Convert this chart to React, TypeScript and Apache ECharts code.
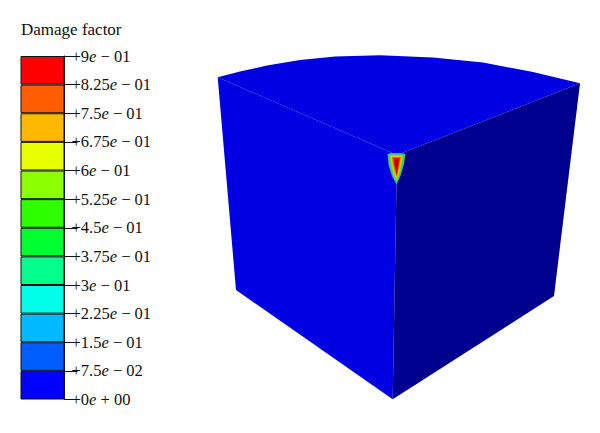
import React, { useEffect, useRef } from "react";
import * as echarts from "echarts";

const FONT = '"Liberation Serif", serif';

// Legend, bottom to top
const bandColors = ["#0000ff", "#005dff", "#00b9ff", "#00ffe8", "#00ff8b", "#00ff2e", "#2eff00", "#8cff00", "#e8ff00", "#ffb900", "#ff5d00", "#ff0000"];
const bandStep = 0.075;
const tickMantissas = ["+0", "+7.5", "+1.5", "+2.25", "+3", "+3.75", "+4.5", "+5.25", "+6", "+6.75", "+7.5", "+8.25", "+9"];
const tickExponents = [" + 00", " − 02", " − 01", " − 01", " − 01", " − 01", " − 01", " − 01", " − 01", " − 01", " − 01", " − 01", " − 01"];

// Cube faces in its own x/y scale
const topFace = [[217.7, 77.3], [240, 71.5], [267, 65.5], [300, 60], [335, 56.5], [380, 55.3], [433, 57.5], [483, 62.5], [533, 72], [580, 83.3], [397, 155]];
const leftFace = [[217.7, 77.3], [397, 155], [392.7, 399.3], [236, 290]];
const rightFace = [[397, 155], [580, 83.3], [554, 296], [392.7, 399.3]];
const hotOuter = [[387.5, 154], [391, 153], [401, 153], [405.5, 154], [404, 164], [400.5, 176], [396.5, 184.5], [392, 176], [388.5, 165]];
const hotGreen = [[389.5, 155], [403.5, 155], [402, 164], [399.5, 174], [396.5, 181.5], [393, 174], [390.5, 164]];
const hotYellow = [[391, 156], [402, 156], [400.5, 164], [398.5, 173], [396.5, 179], [394, 173], [392, 164]];
const hotOrange = [[392, 157], [401, 157], [399.5, 165], [397.5, 174], [396.5, 177], [395, 172], [393, 164]];
const hotRed = [[393.3, 158], [399.8, 158], [398.5, 166], [396.8, 175], [395.5, 170], [394, 164]];
const hotDark = [[394.5, 160], [398, 160], [397.5, 166], [396.6, 172], [395.5, 166]];
const shapes = [topFace, leftFace, rightFace, hotOuter, hotGreen, hotYellow, hotOrange, hotRed, hotDark];
const shapeColors = ["#0000e2", "#0000e2", "#00008f", "#3fbf8f", "#7fe020", "#e8c800", "#f06000", "#e81000", "#b00808"];

export default function App() {
  const ref = useRef<HTMLDivElement>(null);
  useEffect(() => {
    const chart = echarts.init(ref.current!, null, { renderer: "svg" });
    const base = { fontFamily: FONT, fontSize: 16.5, color: "#111" };
    chart.setOption({
      animation: false,
      backgroundColor: "#fff",
      title: {
        text: "Damage factor",
        left: 21,
        top: 21,
        padding: 0,
        textStyle: { fontFamily: FONT, fontSize: 17, fontWeight: "normal", color: "#111" },
      },
      grid: [
        { left: 20.5, top: 56, width: 44, height: 343.5 },
        { left: 0, top: 0, width: 600, height: 433 },
      ],
      xAxis: [
        { gridIndex: 0, type: "category", data: ["Damage factor"], show: false },
        { gridIndex: 1, type: "value", min: 0, max: 600, show: false },
      ],
      yAxis: [
        {
          gridIndex: 0,
          type: "value",
          position: "right",
          min: 0,
          max: 0.9,
          interval: bandStep,
          splitLine: { show: false },
          axisLine: { show: true, lineStyle: { color: "#111", width: 1 } },
          axisTick: { show: true, length: 13, lineStyle: { color: "#111", width: 1 } },
          axisLabel: {
            margin: 7,
            hideOverlap: false,
            showMinLabel: true,
            showMaxLabel: true,
            formatter: (_v: number, i: number) => `{n|${tickMantissas[i]}}{e|e}{n|${tickExponents[i]}}`,
            rich: { n: base, e: { ...base, fontStyle: "italic" } },
          },
        },
        { gridIndex: 1, type: "value", min: 0, max: 433, inverse: true, show: false },
      ],
      series: [
        ...bandColors.map((color) => ({
          type: "bar",
          xAxisIndex: 0,
          yAxisIndex: 0,
          stack: "legend",
          barWidth: "100%",
          data: [bandStep],
          itemStyle: { color, borderColor: "#111", borderWidth: 1 },
        })),
        {
          type: "custom",
          xAxisIndex: 1,
          yAxisIndex: 1,
          clip: false,
          data: shapes.map((_, i) => [i, i]),
          renderItem: (params: any, api: any) => ({
            type: "polygon",
            shape: { points: shapes[params.dataIndex].map((p) => api.coord(p)) },
            style: { fill: shapeColors[params.dataIndex] },
          }),
        },
      ],
    });
    return () => chart.dispose();
  }, []);
  return <div ref={ref} style={{ position: "fixed", left: 0, top: 0, width: 600, height: 433 }} />;
}
